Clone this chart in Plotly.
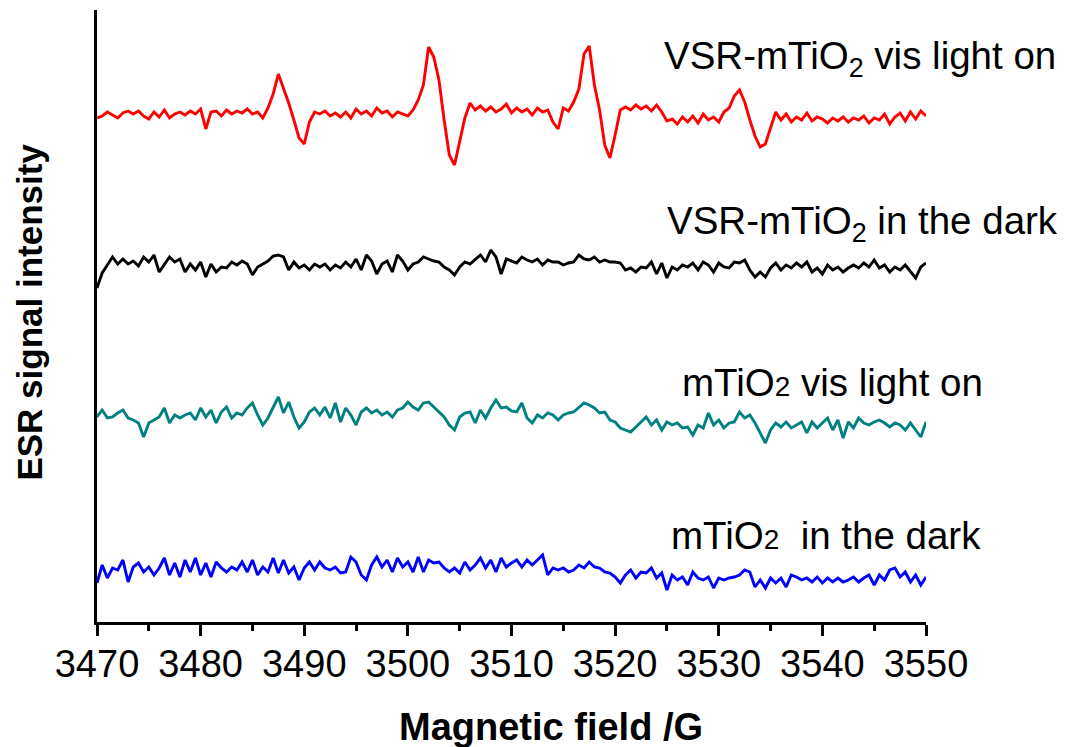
import numpy as np
import plotly.graph_objects as go

# Magnetic field axis (G), 0.5 G steps from 3470 to 3550
field_start = 3470.0
field_step = 0.5

# Signals (arbitrary units, relative to each trace's baseline)
vsr_light = [
    -4, -2, 2, -1, -4, 1, 3, 0, 3, -2, -5, 2, -3, 4, -4, 0, 2, -1, 3, 0,
    5, -15, 2, 3, -2, 4, 0, 3, 1, 5, 0, 2, -4, 6, 20, 40, 26, 11, -6, -24,
    -30, -8, 2, 0, 3, -2, 1, -3, 2, -4, 5, 0, 3, -2, 6, 1, 3, -3, 2, 0,
    -2, 4, 14, 29, 67, 57, 34, -6, -41, -51, -26, -4, 11, 4, 8, 3, 7, 2, 5, 10,
    1, 6, 2, 5, -1, 6, 2, 4, -8, -15, 6, 3, 12, 25, 60, 68, 29, 4, -31, -44,
    -21, 4, 7, 4, 9, 5, 8, 3, 9, 2, -7, -5, -10, -3, -8, -2, -9, 0, -6, -3,
    -8, 2, 6, 18, 24, 12, -6, -22, -33, -30, -14, 2, -6, 0, -8, -3, -6, 1, -7, -3,
    -5, -9, -4, -7, -3, -8, -4, -6, -2, -9, -4, -6, 0, -10, -3, 1, -7, 2, -5, 3,
    -2,
]

vsr_dark = [
    -22, -7, 1, 9, 2, 7, 2, 5, 0, 9, 4, 11, -6, 2, 9, 4, 7, -6, 2, -4,
    4, -11, 2, -6, -1, -2, 4, 1, 5, 2, -9, -1, 2, 5, 10, 11, 9, -4, 4, -2,
    1, -4, 2, -1, 2, -4, 1, -2, 4, -1, 7, -4, 11, 5, -8, 2, 5, -6, 11, 5,
    -4, 2, 4, 9, 7, 5, 4, -1, -4, -9, -1, 4, 2, 7, 11, 4, 16, 9, -8, 7,
    5, 3, 9, 6, 4, 7, 1, 6, 4, 4, 1, 3, 4, 11, 7, 6, 9, 4, 6, 4,
    4, 3, -4, -2, -6, -1, -2, 4, -8, 3, -12, -1, -4, 1, -1, 3, -4, 4, 1, -6,
    3, -1, -2, 4, 3, 6, -4, -11, -6, -11, -2, 3, -4, 1, -2, 3, -1, 4, -6, -2,
    -8, 1, -4, -1, -6, -2, 1, -2, 3, -1, 6, -2, 1, -6, -1, -4, 1, -6, -12, -1,
    3,
]

mtio2_light = [
    0, 7, -1, 0, 4, 7, -1, -3, -6, -20, -6, -3, 0, 9, -6, 2, -1, 2, 4, -3,
    9, 0, 7, -6, 5, 10, -1, 4, 2, 9, 14, 2, -8, -1, 9, 20, 4, 15, 0, -11,
    -5, 5, 9, 2, 10, -1, 14, -5, 9, 2, -8, 5, 9, 4, 7, 2, 5, 0, 7, 9,
    15, 10, 7, 14, 15, 10, 5, 0, -8, -13, 0, 4, 5, -6, 7, -1, 9, 17, 9, 10,
    6, 5, 14, -1, -6, 2, -1, 4, 2, -3, 2, 4, 5, 10, 14, 12, 9, 4, 5, -3,
    -5, -11, -13, -15, -10, -5, 0, -8, -3, -13, -5, -8, -6, -11, -10, -18, -8, -11, 4, -8,
    -3, -11, -6, -5, 5, -1, 2, -6, -16, -26, -13, -6, -10, -5, -11, -8, -5, -16, -5, -11,
    -6, -1, -13, -3, -21, -5, -11, -1, -6, -8, -5, -3, -6, -10, -6, -8, -13, -6, -13, -20,
    -5,
]

mtio2_dark = [
    -15, 3, -10, 0, -2, 8, -14, 1, 5, -4, 1, -7, 0, 10, -7, 5, -9, 8, -4, 10,
    -7, 5, -9, 6, 0, -4, 1, -2, 6, -4, 8, -7, 1, -4, 10, -5, 8, -5, 1, -12,
    0, 6, -2, 6, 0, -2, 1, -5, -4, 11, 6, -7, -12, 3, 11, 1, 8, -4, 10, 1,
    6, -4, 11, -4, 8, 5, 6, 0, -4, 0, -5, 6, -2, 3, 10, 0, 8, -4, 10, 1,
    5, 8, 1, 8, 3, 8, 13, -7, 0, -2, 0, -4, -2, 3, 0, 6, 1, 0, -4, -5,
    -9, -15, -7, -2, -10, -4, -5, 0, -10, -5, -22, -7, -12, -9, -17, -4, -10, -12, -9, -20,
    -10, -12, -10, -9, -7, -2, -4, -19, -12, -20, -10, -15, -10, -19, -7, -9, -12, -10, -14, -9,
    -15, -10, -14, -10, -14, -12, -9, -14, -10, -7, -17, -7, -12, -2, 0, -9, -4, -14, -7, -17,
    -9,
]

series_names = [
    "VSR-mTiO<sub>2</sub> vis light on",
    "VSR-mTiO<sub>2</sub> in the dark",
    "mTiO<span style='font-size:28px'>2</span> vis light on",
    "mTiO<span style='font-size:28px'>2</span>  in the dark",
]
series_values = [vsr_light, vsr_dark, mtio2_light, mtio2_dark]
series_offsets = [508, 356, 205, 54]
series_colors = ["#ff0000", "#000000", "#008080", "#0000ff"]

x_ticks = list(range(3470, 3551, 10))

FONT = "Liberation Sans, Arial"

fig = go.Figure()
for vals, off, col in zip(series_values, series_offsets, series_colors):
    n = len(vals)
    field = field_start + field_step * np.arange(n)
    fig.add_trace(go.Scatter(
        x=field, y=np.array(vals, dtype=float) + off,
        mode="lines", line=dict(color=col, width=2.9),
        showlegend=False, hoverinfo="skip",
    ))

label_pos = [(1.159, 0.921), (1.162, 0.651), (1.071, 0.391), (1.069, 0.142)]
for name, (px, py) in zip(series_names, label_pos):
    fig.add_annotation(
        text=name, xref="paper", yref="paper", x=px, y=py,
        xanchor="right", yanchor="middle", showarrow=False,
        font=dict(family=FONT, size=38.5, color="black"),
    )

fig.add_annotation(
    text="<b>Magnetic field /G</b>", xref="paper", yref="paper",
    x=0.548, y=-0.172, xanchor="center", yanchor="middle", showarrow=False,
    font=dict(family=FONT, size=38, color="black"),
)
fig.add_annotation(
    text="<b>ESR signal intensity</b>", xref="paper", yref="paper",
    x=-0.081, y=0.507, xanchor="center", yanchor="middle", showarrow=False,
    textangle=-90,
    font=dict(family=FONT, size=35, color="black"),
)

fig.update_xaxes(
    range=[3470, 3550], tickvals=x_ticks, ticktext=[str(t) for t in x_ticks],
    ticks="outside", ticklen=11, tickwidth=3, tickcolor="black",
    minor=dict(dtick=5, tick0=3470, ticks="outside", ticklen=6, tickwidth=3, tickcolor="black"),
    showline=True, linewidth=3, linecolor="black", showgrid=False, zeroline=False,
    tickfont=dict(family=FONT, size=38, color="black"),
    ticklabelstandoff=-5,
)
fig.update_yaxes(
    range=[0, 612], showline=True, linewidth=3, linecolor="black",
    showticklabels=False, ticks="", showgrid=False, zeroline=False,
)
fig.update_layout(
    width=1068, height=747,
    margin=dict(l=97, r=142, t=10, b=125),
    plot_bgcolor="white", paper_bgcolor="white",
)
fig.write_html("out.html")
